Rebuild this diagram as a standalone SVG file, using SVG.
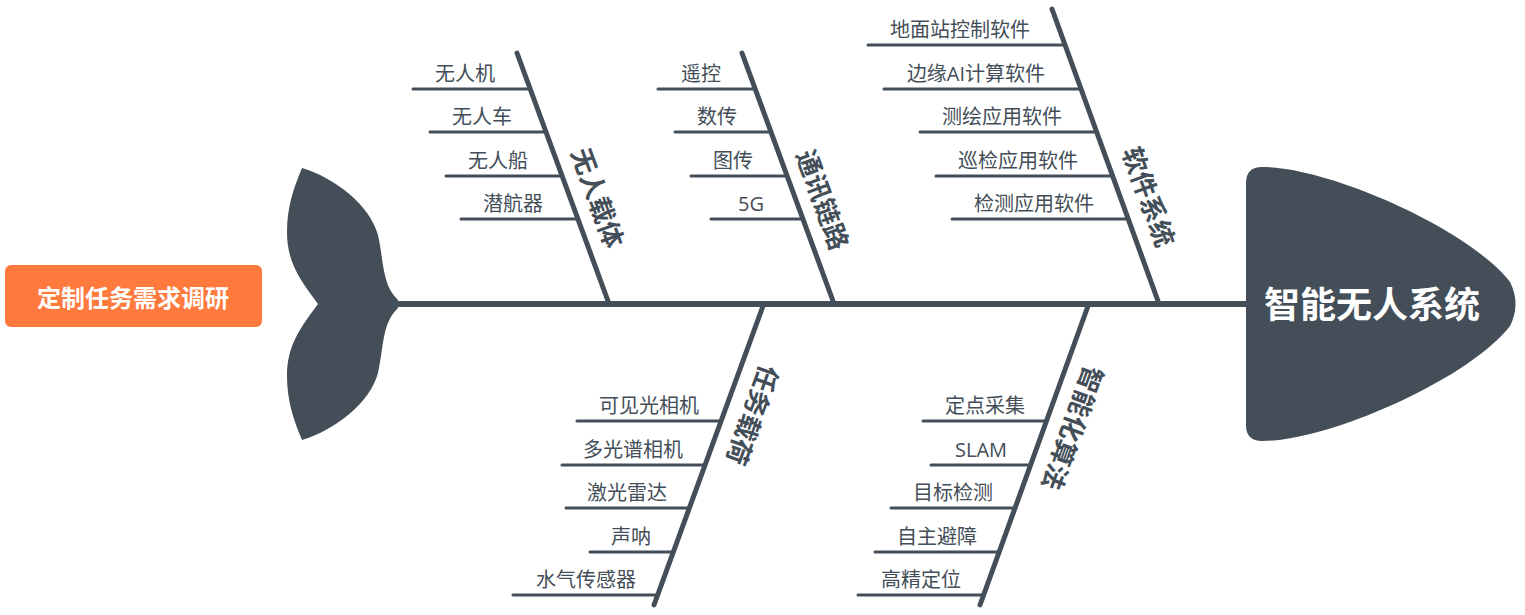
<svg xmlns="http://www.w3.org/2000/svg" width="1525" height="615" viewBox="0 0 1525 615">
<style>
.bone{fill:#434E58}
.spine{stroke:#434E58;stroke-width:6;fill:none}
.br{stroke:#434E58;stroke-width:5;stroke-linecap:round;fill:none}
.sub{stroke:#434E58;stroke-width:3;stroke-linecap:round;fill:none}
.t{font-family:"Open Sans","Noto Sans CJK SC",sans-serif;font-size:20px;fill:#434E58;text-anchor:middle}
.bl{font-family:"Noto Sans CJK SC",sans-serif;font-size:26px;font-weight:700;fill:#434E58;text-anchor:middle}
.head{font-family:"Noto Sans CJK SC",sans-serif;font-size:36px;font-weight:700;fill:#FFFFFF;text-anchor:middle}
.box{font-family:"Noto Sans CJK SC",sans-serif;font-size:24px;font-weight:700;fill:#FFFFFF;text-anchor:middle}
</style>
<rect width="1525" height="615" fill="#FFFFFF"/>
<g id="connectors">
<line class="spine" x1="396" y1="304" x2="1250" y2="304"/>
<line class="br" x1="517" y1="53" x2="608" y2="301"/>
<line class="sub" x1="413" y1="89" x2="530" y2="89"/>
<line class="sub" x1="430" y1="132" x2="546" y2="132"/>
<line class="sub" x1="446" y1="176" x2="562" y2="176"/>
<line class="sub" x1="461" y1="219" x2="578" y2="219"/>
<line class="br" x1="742" y1="53" x2="833" y2="301"/>
<line class="sub" x1="658" y1="89" x2="755" y2="89"/>
<line class="sub" x1="675" y1="132" x2="771" y2="132"/>
<line class="sub" x1="691" y1="176" x2="787" y2="176"/>
<line class="sub" x1="711" y1="219" x2="803" y2="219"/>
<line class="br" x1="1052" y1="9" x2="1158" y2="301"/>
<line class="sub" x1="868" y1="45" x2="1065" y2="45"/>
<line class="sub" x1="884" y1="89" x2="1081" y2="89"/>
<line class="sub" x1="920" y1="132" x2="1097" y2="132"/>
<line class="sub" x1="936" y1="176" x2="1113" y2="176"/>
<line class="sub" x1="952" y1="219" x2="1128" y2="219"/>
<line class="br" x1="763" y1="306" x2="654" y2="605"/>
<line class="sub" x1="577" y1="421" x2="721" y2="421"/>
<line class="sub" x1="562" y1="465" x2="705" y2="465"/>
<line class="sub" x1="566" y1="508" x2="689" y2="508"/>
<line class="sub" x1="590" y1="552" x2="673" y2="552"/>
<line class="sub" x1="513" y1="595" x2="658" y2="595"/>
<line class="br" x1="1088" y1="306" x2="980" y2="605"/>
<line class="sub" x1="923" y1="421" x2="1046" y2="421"/>
<line class="sub" x1="931" y1="465" x2="1031" y2="465"/>
<line class="sub" x1="891" y1="508" x2="1015" y2="508"/>
<line class="sub" x1="875" y1="552" x2="999" y2="552"/>
<line class="sub" x1="858" y1="595" x2="984" y2="595"/>
</g>
<g id="tail">
<path class="bone" d="M398,300 C382,285 384,262 378,235 C370,205 335,178 302,168 C295,185 287,205 287,232 C287,262 300,280 318,304 C300,328 287,346 287,376 C287,403 295,423 302,440 C335,430 370,403 378,373 C384,346 382,323 398,308 Z"/>
</g>
<g id="head">
<path class="bone" d="M1262,167 C1330,167 1470,230 1510,282 Q1521,304 1510,326 C1470,378 1330,441 1262,441 Q1246,441 1246,425 L1246,183 Q1246,167 1262,167 Z"/>
<text class="head" x="1372" y="318">智能无人系统</text>
</g>
<g id="start">
<rect x="5" y="265" width="257" height="62" rx="6" fill="#FF7A3C"/>
<text class="box" x="133" y="307">定制任务需求调研</text>
</g>
<g id="b1">
<text class="bl" transform="translate(597,198) rotate(70)" y="9">无人载体</text>
<text class="t" x="465" y="81">无人机</text>
<text class="t" x="482" y="124">无人车</text>
<text class="t" x="498" y="168">无人船</text>
<text class="t" x="513" y="211">潜航器</text>
</g>
<g id="b2">
<text class="bl" transform="translate(822,200) rotate(70)" y="9">通讯链路</text>
<text class="t" x="701" y="81">遥控</text>
<text class="t" x="717" y="124">数传</text>
<text class="t" x="733" y="168">图传</text>
<text class="t" x="751" y="211">5G</text>
</g>
<g id="b3">
<text class="bl" transform="translate(1148,197) rotate(70)" y="9">软件系统</text>
<text class="t" x="960" y="37">地面站控制软件</text>
<text class="t" x="976" y="81">边缘AI计算软件</text>
<text class="t" x="1002" y="124">测绘应用软件</text>
<text class="t" x="1018" y="168">巡检应用软件</text>
<text class="t" x="1034" y="211">检测应用软件</text>
</g>
<g id="b4">
<text class="bl" transform="translate(752,415) rotate(110)" y="9">任务载荷</text>
<text class="t" x="649" y="413">可见光相机</text>
<text class="t" x="633" y="457">多光谱相机</text>
<text class="t" x="627" y="500">激光雷达</text>
<text class="t" x="631" y="544">声呐</text>
<text class="t" x="586" y="587">水气传感器</text>
</g>
<g id="b5">
<text class="bl" transform="translate(1072,428) rotate(110)" y="9">智能化算法</text>
<text class="t" x="985" y="413">定点采集</text>
<text class="t" x="981" y="457">SLAM</text>
<text class="t" x="953" y="500">目标检测</text>
<text class="t" x="937" y="544">自主避障</text>
<text class="t" x="921" y="587">高精定位</text>
</g>
</svg>
